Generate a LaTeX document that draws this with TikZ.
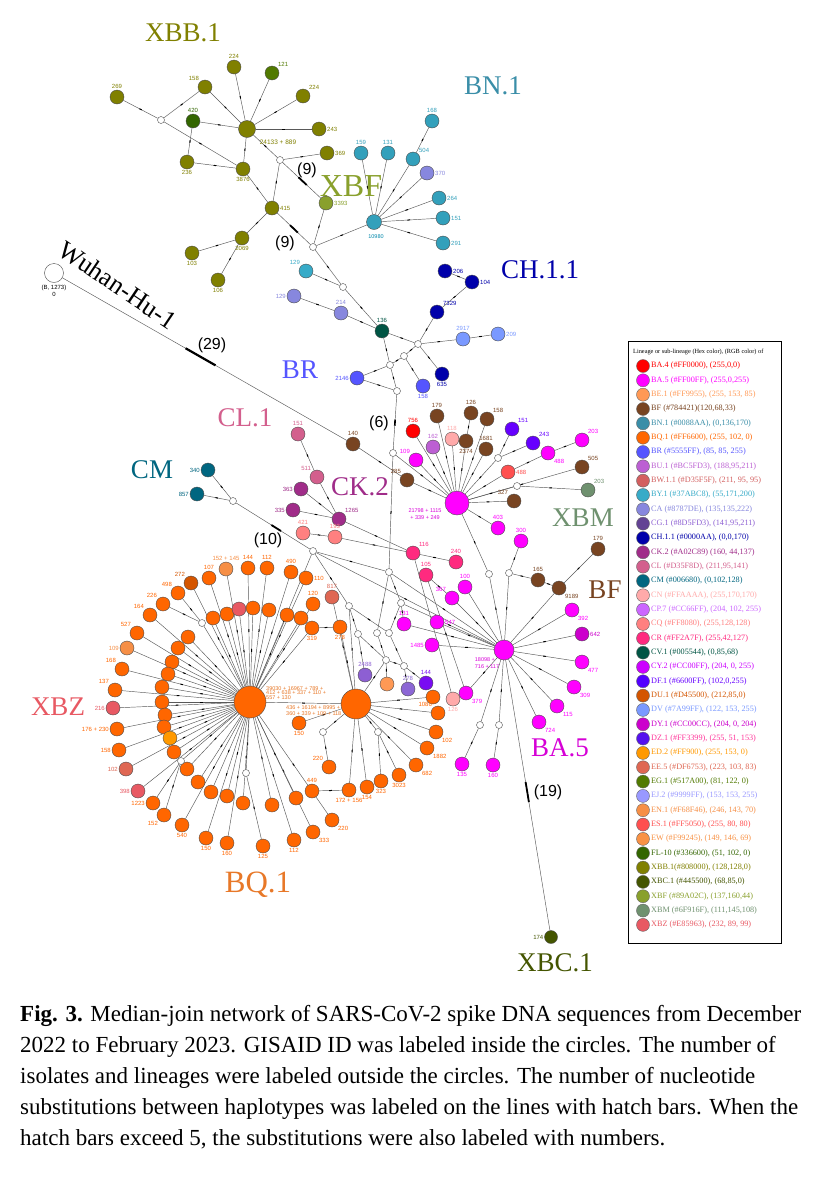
\documentclass[tikz,border=0pt]{standalone}
\usepackage{fontspec}
\setmainfont{Liberation Serif}
\setsansfont{Liberation Sans}
\usetikzlibrary{calc,decorations.markings}
\pgfdeclarelayer{back}
\pgfdeclarelayer{bg}
\pgfsetlayers{back,bg,main}
\definecolor{cBA4}{HTML}{FF0000}
\definecolor{cBA5}{HTML}{FF00FF}
\definecolor{cBE1}{HTML}{FF9955}
\definecolor{cBF}{HTML}{784421}
\definecolor{cBN1}{HTML}{0088AA}
\definecolor{cBNt}{HTML}{3A8EA8}
\definecolor{cBQ1}{HTML}{FF6600}
\definecolor{cBR}{HTML}{5555FF}
\definecolor{cBU1}{HTML}{BC5FD3}
\definecolor{cBW11}{HTML}{D35F5F}
\definecolor{cBY1}{HTML}{37ABC8}
\definecolor{cCA}{HTML}{8787DE}
\definecolor{cCG1}{HTML}{8D5FD3}
\definecolor{cCH11}{HTML}{0000AA}
\definecolor{cCK2}{HTML}{A02C89}
\definecolor{cCL}{HTML}{D35F8D}
\definecolor{cCM}{HTML}{006680}
\definecolor{cCN}{HTML}{FFAAAA}
\definecolor{cCP7}{HTML}{CC66FF}
\definecolor{cCQ}{HTML}{FF8080}
\definecolor{cCR}{HTML}{FF2A7F}
\definecolor{cCV1}{HTML}{005544}
\definecolor{cCY2}{HTML}{CC00FF}
\definecolor{cDF1}{HTML}{6600FF}
\definecolor{cDU1}{HTML}{D45500}
\definecolor{cDV}{HTML}{7A99FF}
\definecolor{cDY1}{HTML}{CC00CC}
\definecolor{cDZ1}{HTML}{FF3399}
\definecolor{cDZc}{HTML}{5511EE}
\definecolor{cED2}{HTML}{FF9900}
\definecolor{cEE5}{HTML}{DF6753}
\definecolor{cEG1}{HTML}{517A00}
\definecolor{cEJ2}{HTML}{9999FF}
\definecolor{cEN1}{HTML}{F68F46}
\definecolor{cES1}{HTML}{FF5050}
\definecolor{cEW}{HTML}{F99245}
\definecolor{cFL10}{HTML}{336600}
\definecolor{cXBB1}{HTML}{808000}
\definecolor{cXBC1}{HTML}{445500}
\definecolor{cXBF}{HTML}{89A02C}
\definecolor{cXBM}{HTML}{6F916F}
\definecolor{cXBZ}{HTML}{E85963}
\definecolor{cBQt}{HTML}{E87828}
\newcommand\hnode[5]{\node[hap=#3,label={[lab=#3]#4:#5}] (#1) at (#2) {};}
\newcommand\mnode[2]{\node[med] (#1) at (#2) {};}
\begin{document}
\begin{tikzpicture}[x=1pt,y=-1pt,
  hap/.style={circle,draw=black!70,line width=0.4pt,fill=#1,minimum size=14pt,inner sep=0pt},
  med/.style={circle,draw=black!70,line width=0.4pt,fill=white,minimum size=7pt,inner sep=0pt},
  lab/.style={text=#1,font=\fontsize{6}{6.5}\selectfont\sffamily,inner sep=0.8pt},
  small/.style={text=#1,font=\fontsize{5.5}{5.5}\selectfont\sffamily,inner sep=0pt,align=left},
  edge/.style={draw=black!65,line width=0.45pt,postaction={decorate},
    decoration={markings,mark=at position 0.5 with {\draw[black,line width=1pt] (-1.3pt,0) -- (1.3pt,0);}}},
  hatch/.style={draw=black,line width=2.2pt},
  ttl/.style={text=#1,font=\fontsize{27}{27}\selectfont,inner sep=0pt},
  cnt/.style={font=\fontsize{16}{16}\selectfont\sffamily,inner sep=0pt}
]
\useasboundingbox (0,0) rectangle (830,1200);
\begin{pgfonlayer}{back}
\fill[white] (0,0) rectangle (830,1200);
\end{pgfonlayer}

% ---------- titles
\node[ttl=cXBB1] (tXBB) at (183,33) {XBB.1};
\node[ttl=cBNt] (tBN) at (493,86) {BN.1};
\node[ttl=cXBF,font=\fontsize{32}{32}\selectfont] (tXBF) at (351,186) {XBF};
\node[ttl=cCH11] (tCH) at (540,270) {CH.1.1};
\node[ttl=cBR] (tBR) at (300,370) {BR};
\node[ttl=cCL] (tCL) at (245,418) {CL.1};
\node[ttl=cCM] (tCM) at (152,470) {CM};
\node[ttl=cCK2] (tCK) at (360,487) {CK.2};
\node[ttl=cXBM] (tXBM) at (583,518) {XBM};
\node[ttl=cBF] (tBF) at (605,590) {BF};
\node[ttl=cXBZ] (tXBZ) at (58,707) {XBZ};
\node[ttl=cDY1!80!cBA5] (tBA5) at (560,748) {BA.5};
\node[ttl=cBQt,font=\fontsize{31}{31}\selectfont] (tBQ) at (258,885) {BQ.1};
\node[ttl=cXBC1] (tXBC) at (555,963) {XBC.1};
\node[ttl=black,font=\fontsize{26}{26}\selectfont,rotate=-34] (tWu) at (118,285) {Wuhan-Hu-1};

% ---------- Wuhan
\node[hap=white,minimum size=19pt] (wuhan) at (54,273) {};
\node[small=black,font=\fontsize{6}{6}\selectfont\sffamily] (wl1) at (54,288) {(B, 1273)};
\node[small=black,font=\fontsize{6}{6}\selectfont\sffamily] (wl2) at (54,294) {0};

% ---------- XBB.1 cluster
\node[hap=cXBB1,minimum size=17pt] (xhub) at (247,129) {};
\node[small=cXBB1,font=\fontsize{6.5}{6.5}\selectfont\sffamily] (xhl) at (278,142) {24133 + 889};
\hnode{x224a}{234,67}{cXBB1}{above}{224}
\hnode{x121}{272,73}{cEG1}{above right}{121}
\hnode{x224b}{303,96}{cXBB1}{above right}{224}
\hnode{x243}{319,129}{cXBB1}{right}{243}
\hnode{x158}{205,87}{cXBB1}{above left}{158}
\hnode{x420}{193,121}{cFL10}{above}{420}
\hnode{x269}{117,97}{cXBB1}{above}{269}
\mnode{m1}{161,120}
\hnode{x236}{187,162}{cXBB1}{below}{236}
\hnode{x3876}{243,169}{cXBB1}{below}{3876}
\mnode{m2}{280,160}
\hnode{x369}{327,153}{cXBB1}{right}{369}
\hnode{x3393}{326,203}{cXBF}{right}{3393}
\hnode{x415}{272,208}{cXBB1}{right}{415}
\mnode{m3}{313,247}
\hnode{x2069}{242,238}{cXBB1}{below}{2069}
\hnode{x103}{192,253}{cXBB1}{below}{103}
\hnode{x106}{218,280}{cXBB1}{below}{106}
\node[cnt] (c9a) at (307,170) {(9)};
\node[cnt] (c9b) at (285,243) {(9)};

% ---------- XBF / BN.1
\node[hap=cBN1!80!white,minimum size=15pt] (fhub) at (374,222) {};
\node[small=cBN1] (fhl) at (376,237) {10980};
\hnode{f159}{361,153}{cBN1!80!white}{above}{159}
\hnode{f131}{388,153}{cBN1!80!white}{above}{131}
\hnode{f504}{413,159}{cBN1!80!white}{above right}{504}
\hnode{f168}{432,121}{cBN1!80!white}{above}{168}
\hnode{f370}{427,173}{cCA}{right}{370}
\hnode{f264}{439,198}{cBN1!80!white}{right}{264}
\hnode{f151}{443,218}{cBN1!80!white}{right}{151}
\hnode{f291}{443,243}{cBN1!80!white}{right}{291}
\hnode{b129}{306,271}{cBY1}{above left}{129}
\mnode{m4}{343,287}
\hnode{ch206}{445,271}{cCH11}{right}{206}
\hnode{ch104}{472,282}{cCH11}{right}{104}
\hnode{ca129}{294,296}{cCA}{left}{129}
\hnode{ca214}{341,313}{cCA}{above}{214}
\hnode{cv136}{382,331}{cCV1}{above}{136}
\hnode{ch7329}{437,312}{cCH11}{above right}{7329}
\mnode{m5}{418,344}
\hnode{dv2917}{463,339}{cDV}{above}{2917}
\hnode{dv209}{498,334}{cDV}{right}{209}
\mnode{m6}{404,356}
\mnode{m7}{390,365}
\hnode{ch635}{442,374}{cCH11}{below}{635}
\hnode{br2146}{357,378}{cBR}{left}{2146}
\hnode{br158}{423,386}{cBR}{below}{158}
\mnode{m8}{397,391}
\mnode{m9}{393,453}
\node[cnt] (c6) at (379,423) {(6)};
\node[cnt] (c29) at (212,345) {(29)};

% ---------- BA.5 hub A region
\node[hap=cBA5,minimum size=24pt] (hubA) at (457,503) {};
\node[small=cBA5!85!black,align=center] (hAl) at (425,514) {21798 + 1115\\[1pt] + 339 + 249};
\hnode{n140}{353,444}{cBF}{above}{140}
\hnode{n285}{407,480}{cBF}{above left}{285}
\hnode{n756}{413,431}{cBA4}{above}{756}
\hnode{n179a}{437,416}{cBF}{above}{179}
\hnode{n109}{416,460}{cBA5}{above left}{109}
\hnode{n162}{433,447}{cBU1}{above}{162}
\hnode{n118}{452,439}{cCN}{above}{118}
\hnode{n2374}{466,441}{cBF}{below}{2374}
\hnode{n126}{471,413}{cBF}{above}{126}
\hnode{n158c}{487,419}{cBF}{above right}{158}
\hnode{n1681}{486,449}{cBF}{above}{1681}
\hnode{n151d}{512,429}{cDF1}{above right}{151}
\mnode{ma}{498,458}
\hnode{n243d}{533,443}{cDF1}{above right}{243}
\hnode{n488m}{548,453}{cBA5}{below right}{488}
\hnode{n488r}{508,472}{cES1}{right}{488}
\hnode{n203m}{582,440}{cBA5}{above right}{203}
\hnode{n505}{582,467}{cBF}{above right}{505}
\mnode{mb}{517,486}
\hnode{n203x}{588,490}{cXBM}{above right}{203}
\hnode{n327}{514,501}{cBF}{above left}{327}

% ---------- CL / CK.2 / CM
\hnode{n151c}{298,434}{cCL}{above}{151}
\hnode{n511}{317,477}{cCL}{above left}{511}
\hnode{n363}{301,489}{cCK2}{left}{363}
\hnode{n335}{293,510}{cCK2}{left}{335}
\hnode{n1265}{339,519}{cCK2}{above right}{1265}
\hnode{n421}{303,533}{cCQ}{above}{421}
\hnode{n193}{335,537}{cCQ}{above}{193}
\mnode{m10}{313,551}
\hnode{cm340}{208,470}{cCM}{left}{340}
\hnode{cm857}{197,494}{cCM}{left}{857}
\mnode{mcm}{233,501}
\node[cnt] (c10) at (268,540) {(10)};

% ---------- central mesh
\mnode{mc1}{389,572}
\mnode{mc2}{349,606}
\mnode{mc3}{401,603}
\mnode{mc4}{358,634}
\mnode{mc5}{377,633}
\mnode{mc6}{389,633}
\mnode{mc7}{386,660}
\mnode{mc8}{404,666}

% ---------- BA.5 hub B
\node[hap=cBA5,minimum size=20pt] (hubB) at (504,650) {};
\node[small=cBA5!85!black,align=left] (hBl) at (487,663) {18098 +\\[1.5pt]716 + 117};
\hnode{n403}{498,528}{cBA5}{above}{403}
\hnode{n300}{521,541}{cBA5}{above}{300}
\hnode{n179b}{598,549}{cBF}{above}{179}
\mnode{mf}{509,573}
\mnode{mg}{489,574}
\hnode{n165}{538,580}{cBF}{above}{165}
\hnode{n9189}{559,588}{cBF}{below right}{9189}
\hnode{n116}{413,553}{cCR}{above right}{116}
\hnode{n240}{456,562}{cCR}{above}{240}
\hnode{n105}{426,575}{cCR}{above}{105}
\hnode{n100}{465,587}{cBA5}{above}{100}
\hnode{n367}{452,598}{cBA5}{above left}{367}
\hnode{n392}{572,610}{cBA5}{below right}{392}
\hnode{n642}{582,634}{cDY1}{right}{642}
\hnode{n131}{404,624}{cBA5}{above}{131}
\hnode{n547}{437,622}{cBA5}{right}{547}
\hnode{n1485}{432,645}{cBA5}{left}{1485}
\hnode{n477}{582,662}{cBA5}{below right}{477}
\hnode{n309}{574,687}{cBA5}{below right}{309}
\hnode{n115}{557,706}{cBA5}{below right}{115}
\hnode{n724}{539,722}{cBA5}{below right}{724}
\hnode{n144}{426,683}{cDZc!70!cCY2}{above}{144}
\hnode{n278}{408,689}{cCG1!80!cCA}{above}{278}
\hnode{n2488}{365,675}{cCG1}{above}{2488}
\hnode{nbe}{387,684}{cBE1}{above}{}
\hnode{n379}{466,693}{cBA5}{below right}{379}
\hnode{n126p}{453,699}{cCN}{below}{126}
\mnode{md}{480,725}
\mnode{me}{499,725}
\hnode{n135}{462,764}{cBA5}{below}{135}
\hnode{n160}{493,765}{cBA5}{below}{160}
\node[hap=cXBC1,minimum size=13pt,label={[lab=cXBC1]left:174}] (xbc) at (551,937) {};
\node[cnt] (c19) at (548,792) {(19)};

% ---------- BQ.1 hubs
\node[hap=cBQ1,minimum size=32pt] (B1) at (250,702) {};
\node[hap=cBQ1,minimum size=30pt] (B2) at (356,704) {};
\node[small=cBQt,anchor=west] (B1l) at (266,693) {39030 + 16967 + 789 +\\[-0.6pt]412 + 638 + 337 + 110 +\\[-0.6pt]557 + 130};
\node[small=cBQt,anchor=west] (B2l) at (286,711) {436 + 16194 + 8995 +\\[0.4pt]360 + 339 + 109 + 118};

\hnode{q1}{226,569}{cEN1}{above}{152 + 145}
\hnode{q2}{248,568}{cBQ1}{above}{144}
\hnode{q3}{267,568}{cBQ1}{above}{112}
\hnode{q4}{291,572}{cBQ1}{above}{490}
\hnode{q5}{306,578}{cBQ1}{right}{110}
\hnode{q6}{209,578}{cBQ1}{above}{107}
\hnode{q7}{191,583}{cDU1}{above left}{272}
\hnode{q8}{178,593}{cBQ1}{above left}{498}
\hnode{q9}{163,604}{cBQ1}{above left}{226}
\hnode{q10}{150,615}{cBQ1}{above left}{164}
\hnode{q11}{137,633}{cBQ1}{above left}{527}
\hnode{q12}{127,648}{cEN1}{left}{109}
\hnode{q13}{122,669}{cBQ1}{above left}{168}
\hnode{q14}{115,690}{cBQ1}{above left}{137}
\hnode{q15}{113,708}{cXBZ}{left}{216}
\hnode{q16}{117,729}{cBQ1}{left}{176 + 230}
\hnode{q17}{119,750}{cBQ1}{left}{158}
\hnode{q18}{126,769}{cEE5}{left}{102}
\hnode{q19}{138,791}{cXBZ}{left}{398}
\hnode{q20}{153,803}{cBQ1}{left}{1223}
\hnode{q21}{164,815}{cBQ1}{below left}{152}
\hnode{q22}{182,825}{cBQ1}{below}{540}
\hnode{q23}{206,838}{cBQ1}{below}{150}
\hnode{q24}{227,843}{cBQ1}{below}{160}
\hnode{q25}{263,846}{cBQ1}{below}{125}
\hnode{q26}{294,840}{cBQ1}{below}{112}
\hnode{q27}{313,832}{cBQ1}{below right}{333}
\hnode{q28}{332,820}{cBQ1}{below right}{220}
\hnode{r1}{213,618}{cBQ1}{below}{}
\hnode{r2}{227,614}{cBQ1}{below}{}
\hnode{r3}{239,609}{cXBZ}{below}{}
\hnode{r4}{253,608}{cBQ1}{below}{}
\hnode{r5}{269,610}{cBQ1}{below}{}
\hnode{r6}{287,615}{cBQ1}{below}{}
\hnode{r7}{301,618}{cBQ1}{below}{}
\hnode{r8}{312,628}{cBQ1}{below}{319}
\hnode{r9}{313,604}{cBQ1}{above}{120}
\hnode{r10}{332,597}{cEE5}{above}{817}
\hnode{r11}{340,627}{cBQ1}{below}{278}
\hnode{r12}{188,637}{cBQ1}{below}{}
\hnode{r13}{178,648}{cBQ1}{below}{}
\hnode{r14}{172,662}{cBQ1}{below}{}
\hnode{r15}{168,674}{cBQ1}{below}{}
\hnode{r16}{162,687}{cBQ1}{below}{}
\hnode{r17}{162,702}{cBQ1}{below}{}
\hnode{r18}{165,715}{cBQ1}{below}{}
\hnode{r19}{164,727}{cBQ1}{below}{}
\hnode{r20}{170,738}{cED2}{below}{}
\hnode{r21}{174,752}{cBQ1}{below}{}
\hnode{r22}{187,769}{cBQ1}{below}{}
\hnode{r23}{198,782}{cBQ1}{below}{}
\hnode{r24}{211,792}{cBQ1}{below}{}
\hnode{r25}{227,796}{cBQ1}{below}{}
\hnode{r26}{243,803}{cBQ1}{below}{}
\hnode{r27}{272,805}{cBQ1}{below}{}
\hnode{r28}{296,798}{cBQ1}{below}{}
\hnode{r29}{312,791}{cBQ1}{above}{449}
\hnode{r30}{299,723}{cBQ1}{below}{150}
\hnode{r31}{329,767}{cBQ1}{above left}{220}
\mnode{mq1}{202,623}
\mnode{mq3}{181,761}
\mnode{mq4}{246,773}
\mnode{mi}{323,732}
\mnode{mh}{378,732}
\hnode{o1}{433,697}{cBQ1}{right}{}
\hnode{o2}{438,713}{cBQ1}{above left}{1086}
\hnode{o3}{436,732}{cBQ1}{below right}{102}
\hnode{o4}{427,748}{cBQ1}{below right}{1882}
\hnode{o5}{416,765}{cBQ1}{below right}{682}
\hnode{o6}{399,775}{cBQ1}{below}{3023}
\hnode{o7}{381,781}{cBQ1}{below}{323}
\hnode{o8}{367,787}{cBQ1}{below}{154}
\hnode{o9}{349,790}{cBQ1}{below}{172 + 156}

% ---------- edges
\begin{pgfonlayer}{bg}
\foreach \a/\b in {xhub/x224a,xhub/x121,xhub/x224b,xhub/x243,xhub/x158,xhub/x420,xhub/x3876,xhub/m2,
  x158/m1,x269/m1,m1/x3876,x420/x236,x236/x3876,x3876/x415,m2/x369,m2/x415,x415/x2069,x2069/x103,x2069/x106,x3393/m3,
  m3/fhub,fhub/f159,fhub/f131,fhub/f504,f504/f168,fhub/f370,fhub/f264,fhub/f151,fhub/f291,
  m3/m4,b129/m4,m4/cv136,ca129/ca214,ca214/cv136,cv136/m5,cv136/m7,m5/ch7329,ch7329/ch104,ch104/ch206,
  m5/dv2917,dv2917/dv209,m5/m6,m5/ch635,m6/m7,m6/br158,m7/br2146,br2146/m8,m7/m8,
  m9/hubA,n140/n285,n285/hubA,hubA/n756,hubA/n179a,hubA/n109,hubA/n162,hubA/n118,hubA/n2374,n2374/n126,
  hubA/n158c,hubA/n1681,hubA/ma,ma/n151d,ma/n243d,hubA/n488r,n488r/n488m,n488m/n203m,hubA/n505,hubA/mb,mb/n203x,
  hubA/n327,hubA/n403,hubA/mg,mg/hubB,
  n151c/n511,n511/n1265,n363/n1265,n335/n1265,n1265/n116,n421/n193,n193/n116,n116/n240,cm340/mcm,cm857/mcm,
  m9/mc1,m10/mc1,m10/mc2,m10/B1,m10/hubB,mc1/mc3,mc1/mc5,mc1/hubB,mc2/mc4,mc2/mc6,mc2/B2,mc3/mc6,mc3/n131,
  mc4/mc7,mc4/n2488,mc5/mc7,mc6/mc8,mc7/B2,mc7/mc8,mc7/nbe,mc8/n278,mc8/n144,mc3/hubB,
  hubB/n131,hubB/n547,hubB/n1485,hubB/n367,n367/n105,hubB/n100,hubB/n392,hubB/n642,hubB/n477,hubB/n309,
  hubB/n115,hubB/n724,hubB/md,md/n135,hubB/me,me/n160,hubB/n379,n105/n379,n116/n126p,hubB/mf,mf/n300,mf/n165,
  n165/n9189,n9189/n179b,n9189/hubB,
  B1/B2,B2/r10,B2/r11,r8/r11,B2/r30,B2/mi,mi/r31,r29/o9,B2/mh,mh/o6,mh/o7,
  q8/mq1,q9/mq1,mq1/B1,q20/mq3,q21/mq3,mq3/B1,q25/mq4,mq4/B1}
  {\draw[edge] (\a) -- (\b);}
\foreach \k in {1,...,7,10,11,...,19,22,23,24,26,27,28} {\draw[edge] (B1) -- (q\k);}
\foreach \k in {1,...,9,12,13,...,28} {\draw[edge] (B1) -- (r\k);}
\foreach \k in {1,...,5,8,9} {\draw[edge] (B2) -- (o\k);}
% hatched long connectors
\draw[edge] (wuhan) -- (n140);
\draw[hatch] ($(wuhan)!0.44!(n140)$) -- ($(wuhan)!0.54!(n140)$);
\draw[edge] (m2) -- (x3393);
\draw[hatch,line width=1.8pt] ($(m2)!0.40!(x3393)$) -- ($(m2)!0.58!(x3393)$);
\draw[edge] (x415) -- (m3);
\draw[hatch,line width=1.8pt] ($(x415)!0.44!(m3)$) -- ($(x415)!0.63!(m3)$);
\draw[edge] (mcm) -- (m10);
\draw[hatch,line width=1.8pt] ($(mcm)!0.48!(m10)$) -- ($(mcm)!0.60!(m10)$);
\draw[edge] (m8) -- (m9);
\draw[hatch,line width=1.6pt] ($(m8)!0.46!(m9)$) -- ($(m8)!0.56!(m9)$);
\draw[edge] (hubB) -- (xbc);
\draw[hatch,line width=1.8pt] ($(hubB)!0.46!(xbc)$) -- ($(hubB)!0.53!(xbc)$);
\end{pgfonlayer}

% ---------- legend
\draw[black,line width=0.8pt] (628,341) rectangle (781,943);
\node[anchor=west,inner sep=0,font=\fontsize{6.3}{7}\selectfont] (lgt) at (633,352) {Lineage or sub-lineage (Hex color), (RGB color) of};
\foreach \i/\f/\c/\t in {
 0/cBA4/cBA4/{BA.4 (\#FF0000), (255,0,0)},
 1/cBA5/cBA5/{BA.5 (\#FF00FF), (255,0,255)},
 2/cBE1/cBE1/{BE.1 (\#FF9955), (255, 153, 85)},
 3/cBF/cBF/{BF (\#784421)(120,68,33)},
 4/cBNt/cBNt/{BN.1 (\#0088AA), (0,136,170)},
 5/cBQ1/cBQ1/{BQ.1 (\#FF6600), (255, 102, 0)},
 6/cBR/cBR/{BR (\#5555FF), (85, 85, 255)},
 7/cBU1/cBU1/{BU.1 (\#BC5FD3), (188,95,211)},
 8/cBW11/cBW11/{BW.1.1 (\#D35F5F), (211, 95, 95)},
 9/cBY1/cBY1/{BY.1 (\#37ABC8), (55,171,200)},
 10/cCA/cCA/{CA (\#8787DE), (135,135,222)},
 11/cCG1!70!black/cCG1/{CG.1 (\#8D5FD3), (141,95,211)},
 12/cCH11/cCH11/{CH.1.1 (\#0000AA), (0,0,170)},
 13/cCK2/cCK2/{CK.2 (\#A02C89) (160, 44,137)},
 14/cCL/cCL/{CL (\#D35F8D), (211,95,141)},
 15/cCM/cCM/{CM (\#006680), (0,102,128)},
 16/cCN/cCN/{CN (\#FFAAAA), (255,170,170)},
 17/cCP7/cCP7/{CP.7 (\#CC66FF), (204, 102, 255)},
 18/cCQ/cCQ/{CQ (\#FF8080), (255,128,128)},
 19/cCR/cCR/{CR (\#FF2A7F), (255,42,127)},
 20/cCV1/cCV1/{CV.1 (\#005544), (0,85,68)},
 21/cCY2/cCY2/{CY.2 (\#CC00FF), (204, 0, 255)},
 22/cDF1!80!blue/cDF1/{DF.1 (\#6600FF), (102,0,255)},
 23/cDU1/cDU1/{DU.1 (\#D45500), (212,85,0)},
 24/cDV/cDV/{DV (\#7A99FF), (122, 153, 255)},
 25/cDY1/cDY1/{DY.1 (\#CC00CC), (204, 0, 204)},
 26/cDZc/cDZ1/{DZ.1 (\#FF3399), (255, 51, 153)},
 27/cED2/cED2/{ED.2 (\#FF900), (255, 153, 0)},
 28/cEE5/cEE5/{EE.5 (\#DF6753), (223, 103, 83)},
 29/cEG1/cEG1/{EG.1 (\#517A00), (81, 122, 0)},
 30/cEJ2/cEJ2/{EJ.2 (\#9999FF), (153, 153, 255)},
 31/cEN1/cEN1/{EN.1 (\#F68F46), (246, 143, 70)},
 32/cES1/cES1/{ES.1 (\#FF5050), (255, 80, 80)},
 33/cEW/cEW/{EW (\#F99245), (149, 146, 69)},
 34/cFL10/cFL10/{FL-10 (\#336600), (51, 102, 0)},
 35/cXBB1/cXBB1/{XBB.1(\#808000), (128,128,0)},
 36/cXBC1/cXBC1/{XBC.1 (\#445500), (68,85,0)},
 37/cXBF/cXBF/{XBF (\#89A02C), (137,160,44)},
 38/cXBM/cXBM/{XBM (\#6F916F), (111,145,108)},
 39/cXBZ/cXBZ/{XBZ (\#E85963), (232, 89, 99)}}
{
  \node[circle,draw=black!60,line width=0.4pt,fill=\f,minimum size=13pt,inner sep=0] (lg\i) at (643,{366+\i*14.33}) {};
  \node[anchor=west,text=\c,font=\fontsize{8.2}{9}\selectfont,inner sep=0] (lt\i) at (651,{366+\i*14.33}) {\t};
}

% ---------- caption
\node[anchor=north west,align=left,font=\fontsize{23}{31}\selectfont,inner sep=0] (cap) at (20,1005)
{\textbf{Fig. 3.} Median-join network of SARS-CoV-2 spike DNA sequences from December\\
2022 to February 2023. GISAID ID was labeled inside the circles. The number of\\
isolates and lineages were labeled outside the circles. The number of nucleotide\\
substitutions between haplotypes was labeled on the lines with hatch bars. When the\\
hatch bars exceed 5, the substitutions were also labeled with numbers.};
\end{tikzpicture}
\end{document}
